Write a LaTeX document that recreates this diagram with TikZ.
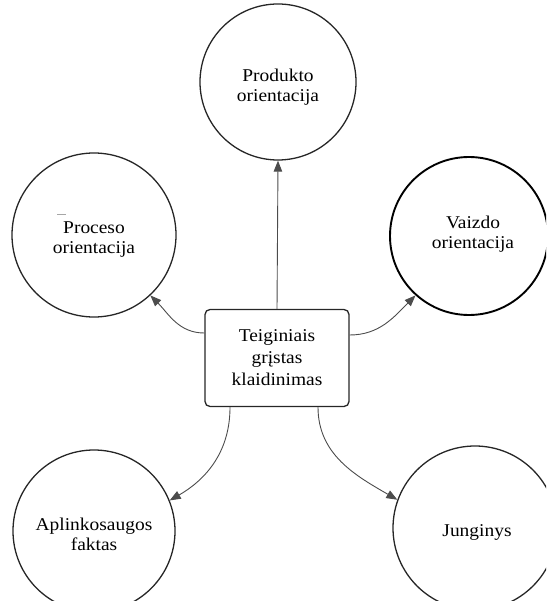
\documentclass[tikz,border=0pt]{standalone}
\usepackage{fontspec}
\setmainfont[FakeStretch=1.08]{Liberation Serif}
\usetikzlibrary{arrows.meta}
\begin{document}
\begin{tikzpicture}[x=1pt,y=-1pt,
  bubble/.style={circle,draw=black!85,line width=1.3pt,minimum size=162pt,inner sep=0pt},
  caption/.style={align=center,inner sep=0pt,font=\fontsize{18}{20}\selectfont},
  centerbox/.style={draw=black!85,line width=1.3pt,rounded corners=5pt,minimum width=144pt,
    minimum height=97pt,align=center,font=\fontsize{18}{22}\selectfont},
  link/.style={draw=black!70,line width=0.9pt,-{Triangle[length=11pt,width=8.5pt]}}]
\clip (0,0) rectangle (546,601);
\useasboundingbox (0,0) rectangle (546,601);

% outer circles
\node[bubble,minimum size=156pt] (prod) at (278,82) {};
\node[bubble,minimum size=164pt] (proc) at (94,235) {};
\node[bubble,line width=1.9pt,draw=black,minimum size=158pt] (vaiz) at (469,236) {};
\node[bubble] (apl) at (94,531) {};
\node[bubble,minimum size=164pt] (jung) at (475,528) {};

% circle captions
\node[caption] (prodt) at ([yshift=-5pt]prod.center) {Produkto\\orientacija};
\node[caption] (proct) at ([yshift=-5pt]proc.center) {Proceso\\orientacija};
\node[caption] (vaizt) at ([yshift=2pt,xshift=4pt]vaiz.center) {Vaizdo\\orientacija};
\node[caption] (aplt) at ([yshift=-3pt]apl.center) {Aplinkosaugos\\faktas};
\node[caption] (jungt) at ([yshift=-4pt,xshift=2pt]jung.center) {Junginys};
\draw[black!35,line width=0.6pt] (57,214) -- (66,214);

% central statement
\node[centerbox] (tgk) at (277,358) {Teiginiais\\grįstas\\klaidinimas};

% connectors
\draw[link] (tgk.north) -- (prod.south);
\draw[link] ([yshift=25pt]tgk.west) to[out=180,in=-45] (proc.-47);
\draw[link] ([yshift=23pt]tgk.east) to[out=0,in=-135] (vaiz.-132);
\draw[link] ([xshift=-47pt]tgk.south) to[out=-90,in=30] (apl.22);
\draw[link] ([xshift=41pt]tgk.south) to[out=-90,in=150] (jung.160);
\end{tikzpicture}
\end{document}
